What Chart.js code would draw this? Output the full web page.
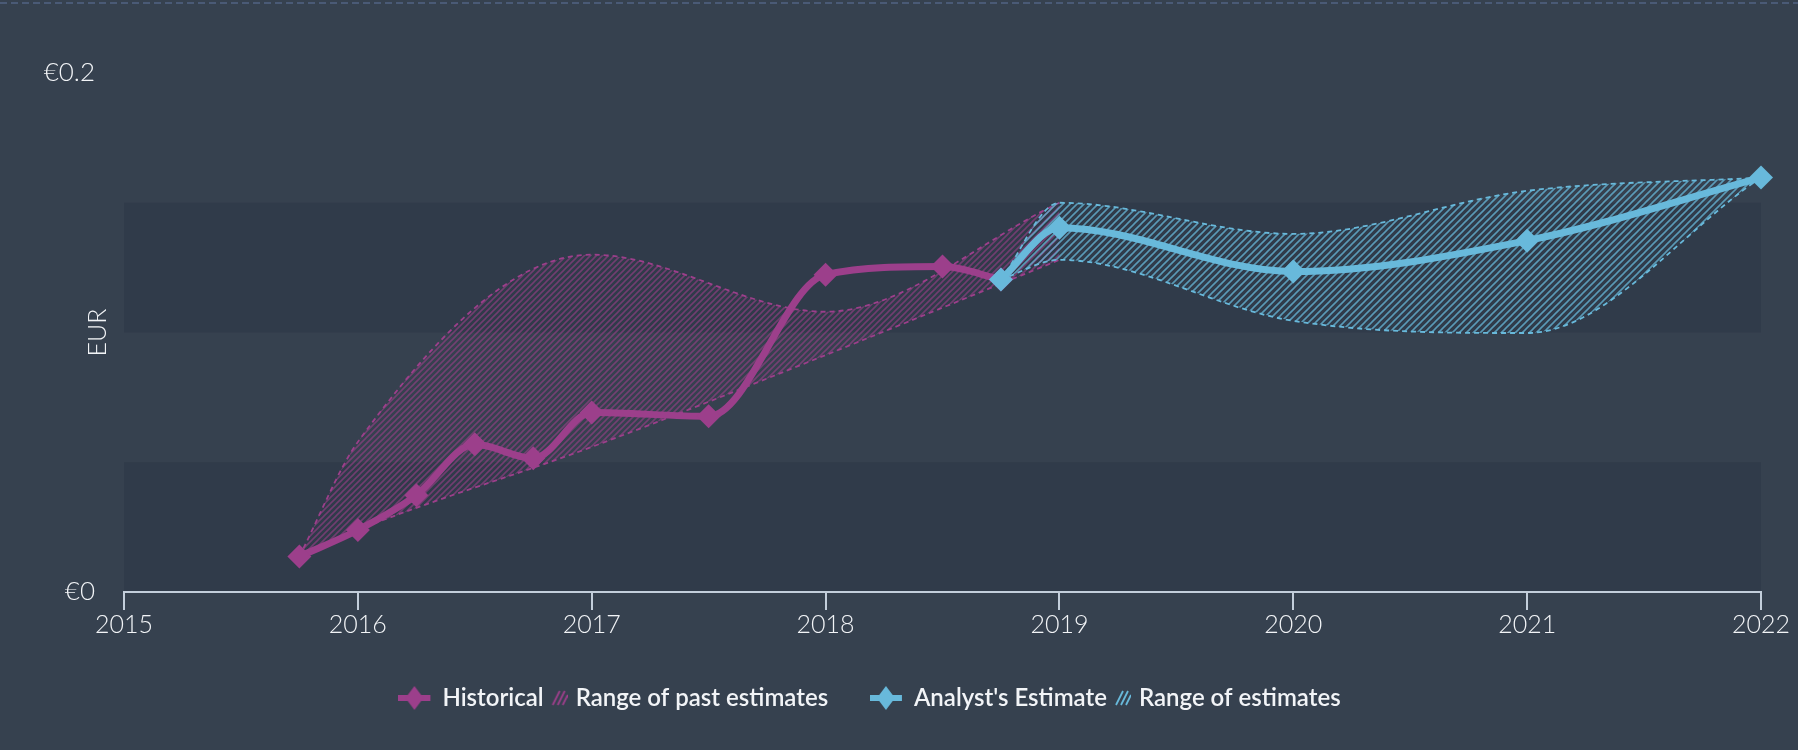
<!DOCTYPE html>
<html>
<head>
<meta charset="utf-8">
<script src="https://cdn.jsdelivr.net/npm/chart.js@4.4.1/dist/chart.umd.min.js"></script>
<style>
  html, body { margin: 0; padding: 0; background: #36414f; }
</style>
</head>
<body>
<canvas id="epsChart" width="1798" height="750"></canvas>
<script>
// EPS, EUR
const histYears = [2015.75, 2016, 2016.25, 2016.5, 2016.75, 2017, 2017.5, 2018, 2018.5, 2018.75];
const histEps = [0.0137, 0.0239, 0.0373, 0.0569, 0.0515, 0.0692, 0.0677, 0.1223, 0.1254, 0.1204];

const pastRangeYears = [2015.75, 2016, 2017, 2018, 2019];
const pastRangeHigh = [0.0137, 0.0578, 0.130, 0.108, 0.150];
const pastRangeLow = [0.0137, 0.0239, 0.0559, 0.0913, 0.128];

const estYears = [2018.75, 2019, 2020, 2021, 2022];
const estEps = [0.1204, 0.1404, 0.1235, 0.1354, 0.1597];
const estHigh = [0.1204, 0.150, 0.138, 0.1546, 0.1597];
const estLow = [0.1204, 0.128, 0.1045, 0.0998, 0.1597];

const xTickYears = [2015, 2016, 2017, 2018, 2019, 2020, 2021, 2022];
const yTickValues = [0, 0.2];
const yTickLabels = ['€0', '€0.2'];

const legendLabels = ['Historical', 'Range of past estimates', "Analyst's Estimate", 'Range of estimates'];

const BG = '#36414f';
const BAND = '#303b4a';
const PURPLE = '#9c3f8b';
const CYAN = '#68b9db';
const AXIS = '#c3cedb';
const TEXT = '#f2f4f7';

const toPoints = (xs, ys) => xs.map((x, i) => ({x: x, y: ys[i]}));

function hatch(color, alpha, size) {
  const c = document.createElement('canvas');
  c.width = size; c.height = size;
  const g = c.getContext('2d');
  g.strokeStyle = color;
  g.globalAlpha = alpha;
  g.lineWidth = 1.6;
  g.beginPath();
  g.moveTo(0, size); g.lineTo(size, 0);
  g.moveTo(-1, 1); g.lineTo(1, -1);
  g.moveTo(size - 1, size + 1); g.lineTo(size + 1, size - 1);
  g.stroke();
  return g.createPattern(c, 'repeat');
}

// legend icon: thick line with a diamond on it
function markerIcon(color) {
  const c = document.createElement('canvas');
  c.width = 54; c.height = 26;
  const g = c.getContext('2d');
  g.fillStyle = color;
  g.fillRect(0, 10, 32, 6);
  g.beginPath();
  g.moveTo(16, 1); g.lineTo(25, 13); g.lineTo(16, 25); g.lineTo(7, 13);
  g.closePath();
  g.fill();
  return c;
}

// legend icon: small hatched square
function hatchIcon(color) {
  const c = document.createElement('canvas');
  c.width = 18; c.height = 18;
  const g = c.getContext('2d');
  g.strokeStyle = color;
  g.lineWidth = 1.8;
  g.beginPath();
  g.moveTo(3, 16); g.lineTo(10, 2);
  g.moveTo(8, 16); g.lineTo(15, 2);
  g.moveTo(13, 16); g.lineTo(18, 6);
  g.stroke();
  return c;
}

const backdrop = {
  id: 'backdrop',
  beforeDraw(chart) {
    const {ctx, chartArea} = chart;
    const y = chart.scales.y;
    ctx.save();
    ctx.fillStyle = BG;
    ctx.fillRect(0, 0, chart.width, chart.height);
    // darker bands on every other 0.05 step
    const ticks = y.ticks;
    ctx.fillStyle = BAND;
    for (let i = 0; i < ticks.length - 1; i += 2) {
      const top = y.getPixelForValue(ticks[i + 1].value);
      const bottom = y.getPixelForValue(ticks[i].value);
      ctx.fillRect(chartArea.left, top, chartArea.right - chartArea.left, bottom - top);
    }
    ctx.strokeStyle = '#4a5a76';
    ctx.lineWidth = 2;
    ctx.setLineDash([7, 4]);
    ctx.beginPath();
    ctx.moveTo(0, 3);
    ctx.lineTo(chart.width, 3);
    ctx.stroke();
    ctx.restore();
  }
};

function drawChart() {
  const ctx = document.getElementById('epsChart');
  const purpleHatch = hatch(PURPLE, 0.6, 6);
  const cyanHatch = hatch(CYAN, 0.75, 7);

  const band = (data, color, fill, bg) => ({
    data: data,
    borderColor: color,
    borderWidth: 1.8,
    borderDash: [5, 4],
    backgroundColor: bg,
    fill: fill,
    pointRadius: 0,
    cubicInterpolationMode: 'monotone',
    clip: false
  });

  new Chart(ctx, {
    type: 'line',
    data: {
      datasets: [
        {
          data: toPoints(estYears, estEps),
          borderColor: CYAN,
          borderWidth: 7,
          pointStyle: 'rectRot',
          pointRadius: 12,
          pointBackgroundColor: CYAN,
          pointBorderWidth: 0,
          cubicInterpolationMode: 'monotone',
          fill: false,
          clip: false,
          order: 0
        },
        {
          data: toPoints(histYears, histEps),
          borderColor: PURPLE,
          borderWidth: 7,
          pointStyle: 'rectRot',
          pointRadius: 12,
          pointBackgroundColor: PURPLE,
          pointBorderWidth: 0,
          cubicInterpolationMode: 'monotone',
          fill: false,
          clip: false,
          order: 1
        },
        Object.assign(band(toPoints(estYears, estHigh), CYAN, 3, cyanHatch), {order: 2}),
        Object.assign(band(toPoints(estYears, estLow), CYAN, false, 'transparent'), {order: 3}),
        Object.assign(band(toPoints(pastRangeYears, pastRangeHigh), PURPLE, 5, purpleHatch), {order: 4}),
        Object.assign(band(toPoints(pastRangeYears, pastRangeLow), PURPLE, false, 'transparent'), {order: 5})
      ]
    },
    options: {
      responsive: false,
      animation: false,
      layout: {
        padding: {top: 73, right: 37, bottom: 30, left: 0}
      },
      scales: {
        x: {
          type: 'linear',
          min: xTickYears[0],
          max: xTickYears[xTickYears.length - 1],
          afterBuildTicks: (scale) => {
            scale.ticks = xTickYears.map(v => ({value: v}));
          },
          afterFit: (scale) => { scale.height = 84; },
          grid: {
            drawOnChartArea: false,
            drawTicks: true,
            tickLength: 18,
            color: AXIS,
            lineWidth: 2
          },
          border: {display: true, color: AXIS, width: 2},
          ticks: {
            color: TEXT,
            padding: 0,
            maxRotation: 0,
            font: {family: 'Lato', size: 25, weight: '300'},
            callback: (value) => String(value)
          }
        },
        y: {
          min: 0,
          max: 0.2,
          afterFit: (scale) => { scale.width = 124; },
          grid: {display: false, drawTicks: false},
          border: {display: false},
          ticks: {
            stepSize: 0.05,
            color: TEXT,
            padding: 29,
            font: {family: 'Lato', size: 26, weight: '300'},
            callback: (value) => {
              const i = yTickValues.findIndex(v => Math.abs(v - value) < 1e-9);
              return i >= 0 ? yTickLabels[i] : '';
            }
          },
          title: {
            display: true,
            text: 'EUR',
            color: TEXT,
            font: {family: 'Lato', size: 25, weight: '300'},
            padding: {top: 83, bottom: 0}
          }
        }
      },
      plugins: {
        tooltip: {enabled: false},
        legend: {
          position: 'bottom',
          onClick: null,
          labels: {
            usePointStyle: true,
            pointStyleWidth: 10,
            padding: 10,
            color: TEXT,
            font: {family: 'Lato', size: 24, weight: '600'},
            generateLabels: () => [
              {text: legendLabels[0], pointStyle: markerIcon(PURPLE), fillStyle: PURPLE, strokeStyle: 'transparent', lineWidth: 0, fontColor: TEXT},
              {text: legendLabels[1] + ' '.repeat(9), pointStyle: hatchIcon(PURPLE), fillStyle: PURPLE, strokeStyle: 'transparent', lineWidth: 0, fontColor: TEXT},
              {text: legendLabels[2], pointStyle: markerIcon(CYAN), fillStyle: CYAN, strokeStyle: 'transparent', lineWidth: 0, fontColor: TEXT},
              {text: legendLabels[3], pointStyle: hatchIcon(CYAN), fillStyle: CYAN, strokeStyle: 'transparent', lineWidth: 0, fontColor: TEXT}
            ]
          }
        }
      }
    },
    plugins: [backdrop]
  });
}

Promise.all([
  document.fonts.load('300 25px Lato'),
  document.fonts.load('600 24px Lato')
]).then(drawChart, drawChart);
</script>
</body>
</html>
